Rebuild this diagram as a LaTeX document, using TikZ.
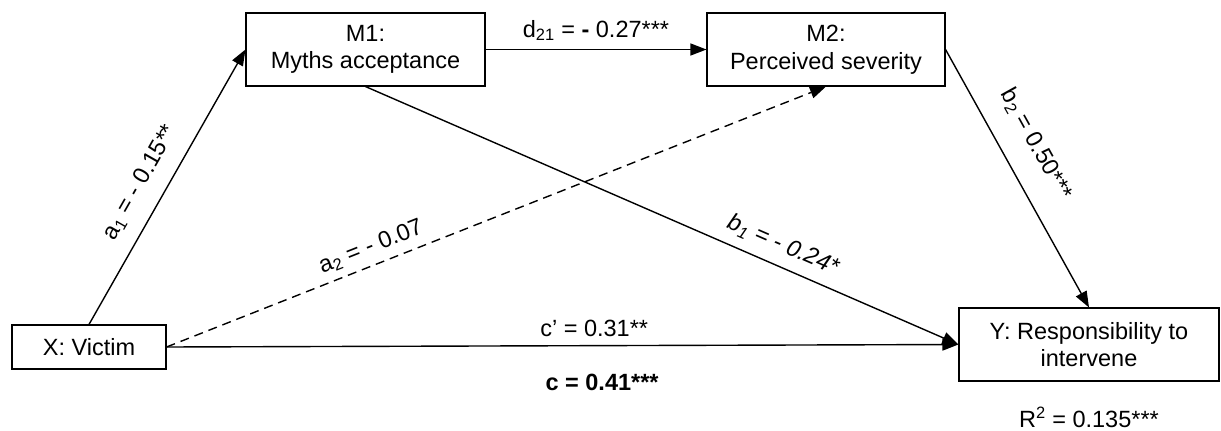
\documentclass[tikz,border=0pt]{standalone}
\usepackage{fontspec}
\setmainfont{Liberation Sans}
\usetikzlibrary{arrows.meta,positioning}

\begin{document}
\begin{tikzpicture}[x=1pt, y=-1pt, line width=1.4pt,
  var/.style={draw, line width=1.1pt, align=center, inner sep=0pt,
    font=\fontsize{23.5}{27.5}\selectfont},
  path/.style={-{Triangle[length=16pt,width=12pt]}},
  coef/.style={font=\fontsize{23.5}{26}\selectfont, inner sep=2pt}]
  \useasboundingbox (0,0) rectangle (1221,431);
  % variables
  \node[var, minimum width=239pt, minimum height=73pt] (M1) at (365.5,49.5) {M1:\\Myths acceptance};
  \node[var, minimum width=238pt, minimum height=73pt] (M2) at (826,49.5) {M2:\\Perceived severity};
  \node[var, minimum width=154pt, minimum height=44pt] (X) at (89,347) {X: Victim};
  \node[var, minimum width=260pt, minimum height=73pt] (Y) at (1089,344.5) {Y: Responsibility to\\intervene};
  % paths
  \draw[path] (M1.east) -- node[coef, above=6pt] (d21) {d\textsubscript{21} = \textbf{-} 0.27***} (M2.west);
  \draw[path] (X.north) -- node[coef, sloped, above=13pt, pos=0.47] (a1) {a\textsubscript{1} = - 0.15**} (M1.west);
  \draw[path, dashed, dash pattern=on 9pt off 6pt] (X.east) -- node[coef, sloped, above=5pt, pos=0.32] (a2) {a\textsubscript{2} = - 0.07} (M2.south);
  \draw[path] (M1.south) -- node[coef, sloped, above=8pt, pos=0.69, font=\fontsize{23.5}{26}\selectfont\itshape] (b1) {b\textsubscript{1} = - 0.24*} (Y.west);
  \draw[path] (M2.east) -- node[coef, sloped, above=20pt, pos=0.43] (b2) {b\textsubscript{2} = 0.50***} (Y.north);
  \draw[path] (X.east) -- node[coef, above=6pt, pos=0.54] (cp) {c’ = 0.31**}
    node[coef, below=26pt, pos=0.55, font=\fontsize{23.5}{26}\selectfont\bfseries] (c) {c = 0.41***} (Y.west);
  % fit
  \node[coef, inner sep=0pt, below=25pt of Y] (rsq) {R\textsuperscript{2} = 0.135***};
\end{tikzpicture}
\end{document}
